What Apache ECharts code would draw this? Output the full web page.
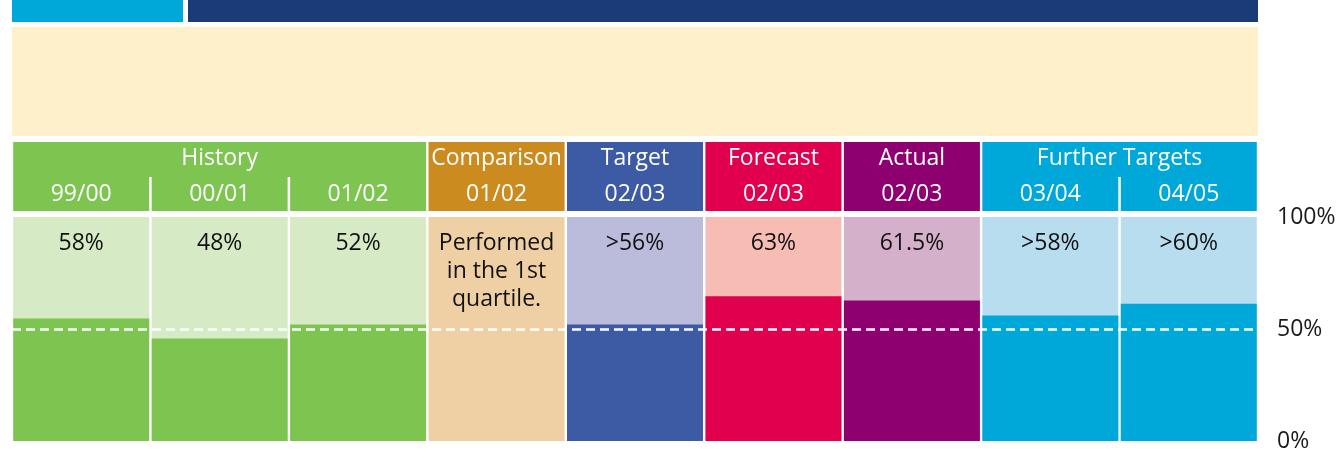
<!DOCTYPE html>
<html>
<head>
<meta charset="utf-8">
<script src="https://cdn.jsdelivr.net/npm/echarts@6/dist/echarts.min.js"></script>
<style>
  html, body { margin: 0; padding: 0; background: #fff; }
  #chart { width: 1341px; height: 450px; }
</style>
</head>
<body>
<div id="chart"></div>
<script>
// 数据
var categories = ['99/00', '00/01', '01/02', '01/02', '02/03', '02/03', '02/03', '03/04', '04/05'];
var valueLabels = ['58%', '48%', '52%', 'Performed\nin the 1st\nquartile.', '>56%', '63%', '61.5%', '>58%', '>60%'];
var barValues = [54.7, 45.8, 52, null, 52, 64.6, 62.7, 56, 61.3];
var fullValues = [100, 100, 100, 100, 100, 100, 100, 100, 100];
var groupNames = ['History', 'Comparison', 'Target', 'Forecast', 'Actual', 'Further Targets'];
var groupStarts = [0, 3, 4, 5, 6, 7];
var groupEnds = [3, 4, 5, 6, 7, 9];
var axisTicks = [0, 50, 100];

// 颜色
var headerColors = ['#7DC451', '#CC8B1E', '#3D5AA5', '#E0004E', '#8E0070', '#00A8DA'];
var lightColors = ['#D6EAC6', '#D6EAC6', '#D6EAC6', '#EFD0A5', '#BBBCDC', '#F7BDB4', '#D4B0CA', '#B8DDEE', '#B8DDEE'];
var darkColors = ['#7DC451', '#7DC451', '#7DC451', '#EFD0A5', '#3D5AA5', '#E0004E', '#8E0070', '#00A8DA', '#00A8DA'];

var FONT = '"Open Sans", "Noto Sans", sans-serif';

var chart = echarts.init(document.getElementById('chart'));

var option = {
    animation: false,
    graphic: [
        { type: 'rect', shape: { x: 12, y: 0, width: 171, height: 22 }, style: { fill: '#00A8DA' } },
        { type: 'rect', shape: { x: 188, y: 0, width: 1070, height: 22 }, style: { fill: '#1B3A78' } },
        { type: 'rect', shape: { x: 12, y: 27, width: 1246, height: 109 }, style: { fill: '#FDF0CA' } }
    ],
    grid: [
        { left: 12, right: 83, top: 217, bottom: 9, outerBoundsMode: 'none' },
        { left: 12, right: 83, top: 142, height: 69, outerBoundsMode: 'none' }
    ],
    xAxis: [
        { type: 'category', data: categories, gridIndex: 0, show: false },
        { type: 'value', min: 0, max: 9, gridIndex: 1, show: false }
    ],
    yAxis: [
        {
            type: 'value', gridIndex: 0, min: 0, max: 100, interval: 50,
            position: 'right',
            axisLine: { show: false },
            axisTick: { show: false },
            splitLine: { show: false },
            axisLabel: {
                margin: 19,
                fontSize: 23,
                fontFamily: FONT,
                color: '#1a1a1a',
                formatter: function (v) { return axisTicks.indexOf(v) >= 0 ? v + '%' : ''; }
            }
        },
        { type: 'value', gridIndex: 1, min: 0, max: 1, show: false }
    ],
    series: [
        {
            type: 'bar',
            silent: true,
            barWidth: 136,
            barGap: '-100%',
            data: fullValues.map(function (v, i) {
                return { value: v, itemStyle: { color: lightColors[i] } };
            }),
            label: {
                show: true,
                position: 'insideTop',
                distance: 12,
                fontSize: 23,
                lineHeight: 28,
                fontFamily: FONT,
                color: '#111',
                formatter: function (p) { return valueLabels[p.dataIndex]; }
            }
        },
        {
            type: 'bar',
            silent: true,
            barWidth: 136,
            barGap: '-100%',
            data: barValues.map(function (v, i) {
                return { value: v, itemStyle: { color: darkColors[i] } };
            }),
            markLine: {
                silent: true,
                symbol: 'none',
                label: { show: false },
                lineStyle: { color: '#fff', type: [9, 5], width: 2.5 },
                data: [{ yAxis: 50 }]
            }
        },
        {
            type: 'custom',
            xAxisIndex: 1,
            yAxisIndex: 1,
            silent: true,
            clip: false,
            data: groupStarts.map(function (s, i) { return [s, groupEnds[i]]; }),
            encode: { x: [0, 1] },
            renderItem: function (params, api) {
                var i = params.dataIndex;
                var s = api.value(0), e = api.value(1);
                var p0 = api.coord([s, 1]), p1 = api.coord([e, 0]);
                var x0 = p0[0] + 1.2, x1 = p1[0] - 1.2, y0 = p0[1], y1 = p1[1];
                var children = [
                    { type: 'rect', shape: { x: x0, y: y0, width: x1 - x0, height: y1 - y0 }, style: { fill: headerColors[i] } },
                    { type: 'text', style: { text: groupNames[i], x: (x0 + x1) / 2, y: y0 + 16, align: 'center', verticalAlign: 'middle', fill: '#fff', fontSize: 23, fontFamily: FONT } }
                ];
                for (var c = s; c < e; c++) {
                    var a = api.coord([c, 0])[0], b = api.coord([c + 1, 0])[0];
                    children.push({ type: 'text', style: { text: categories[c], x: (a + b) / 2, y: y0 + 52, align: 'center', verticalAlign: 'middle', fill: '#fff', fontSize: 23, fontFamily: FONT } });
                    if (c > s) {
                        children.push({ type: 'line', shape: { x1: a, y1: y0 + 35, x2: a, y2: y1 }, style: { stroke: '#fff', lineWidth: 2.5 } });
                    }
                }
                return { type: 'group', children: children };
            }
        }
    ]
};
chart.setOption(option);
</script>
</body>
</html>
